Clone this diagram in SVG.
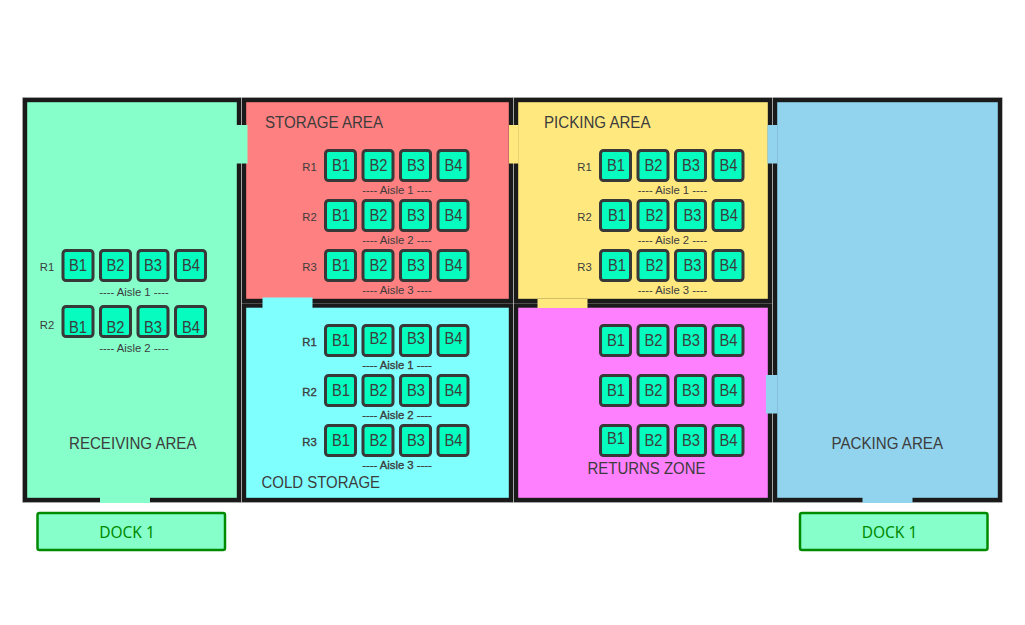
<svg xmlns="http://www.w3.org/2000/svg" width="1025" height="625" viewBox="0 0 1025 625">
<style>
.room{stroke:#1a1a1a;stroke-width:4.4}
.edge{fill:none;stroke:#c8c8c8;stroke-width:1}
.bin{fill:#06fdbf;stroke:#383838;stroke-width:3}
text{font-family:"Liberation Sans",Arial,sans-serif;fill:#3c3c3c}
.b{font-size:16px}
.l{font-size:16px}
.s{font-size:11.3px;text-anchor:middle}
.h{stroke:#3c3c3c;stroke-width:.35}
.dock{fill:#86ffcb;stroke:#008a00;stroke-width:2.5}
.dt{font-family:"Noto Sans",sans-serif;font-size:15.5px;fill:#008a00;text-anchor:middle}
</style>
<rect width="1025" height="625" fill="#fff"/>
<g id="receiving">
<rect class="edge" x="22.5" y="97.5" width="219" height="405"/>
<rect class="room" x="25" y="100" width="214" height="400" fill="#86ffcb"/>
<text class="l" x="69" y="449" textLength="127.5" lengthAdjust="spacingAndGlyphs">RECEIVING AREA</text>
<text class="s" x="47" y="271">R1</text><text class="s" x="47" y="329">R2</text>
<rect class="bin" x="63" y="250.5" width="30" height="30" rx="3"/><rect class="bin" x="100.5" y="250.5" width="30" height="30" rx="3"/><rect class="bin" x="138" y="250.5" width="30" height="30" rx="3"/><rect class="bin" x="175.5" y="250.5" width="30" height="30" rx="3"/>
<text class="b" x="69" y="271" textLength="18" lengthAdjust="spacingAndGlyphs">B1</text><text class="b" x="106.5" y="271" textLength="18" lengthAdjust="spacingAndGlyphs">B2</text><text class="b" x="144" y="271" textLength="18" lengthAdjust="spacingAndGlyphs">B3</text><text class="b" x="182" y="271" textLength="18" lengthAdjust="spacingAndGlyphs">B4</text>
<text class="s" x="134" y="296">---- Aisle 1 ----</text>
<rect class="bin" x="63" y="306.5" width="30" height="30" rx="3"/><rect class="bin" x="100.5" y="306.5" width="30" height="30" rx="3"/><rect class="bin" x="138" y="306.5" width="30" height="30" rx="3"/><rect class="bin" x="175.5" y="306.5" width="30" height="30" rx="3"/>
<text class="b" x="69" y="333" textLength="18" lengthAdjust="spacingAndGlyphs">B1</text><text class="b" x="106.5" y="333" textLength="18" lengthAdjust="spacingAndGlyphs">B2</text><text class="b" x="144" y="333" textLength="18" lengthAdjust="spacingAndGlyphs">B3</text><text class="b" x="182" y="333" textLength="18" lengthAdjust="spacingAndGlyphs">B4</text>
<text class="s" x="134" y="352">---- Aisle 2 ----</text>
</g>
<g id="storage">
<rect class="edge" x="241.5" y="97.5" width="272" height="206"/>
<rect class="room" x="244" y="100" width="267" height="201" fill="#ff8080"/>
<text class="l" x="265" y="128" textLength="118" lengthAdjust="spacingAndGlyphs">STORAGE AREA</text>
<text class="s" x="309.5" y="171">R1</text><text class="s" x="309.5" y="221">R2</text><text class="s" x="309.5" y="271">R3</text>
<rect class="bin" x="325.5" y="150.5" width="30" height="30" rx="3"/><rect class="bin" x="363" y="150.5" width="30" height="30" rx="3"/><rect class="bin" x="400.5" y="150.5" width="30" height="30" rx="3"/><rect class="bin" x="438" y="150.5" width="30" height="30" rx="3"/>
<rect class="bin" x="325.5" y="200.5" width="30" height="30" rx="3"/><rect class="bin" x="363" y="200.5" width="30" height="30" rx="3"/><rect class="bin" x="400.5" y="200.5" width="30" height="30" rx="3"/><rect class="bin" x="438" y="200.5" width="30" height="30" rx="3"/>
<rect class="bin" x="325.5" y="250.5" width="30" height="30" rx="3"/><rect class="bin" x="363" y="250.5" width="30" height="30" rx="3"/><rect class="bin" x="400.5" y="250.5" width="30" height="30" rx="3"/><rect class="bin" x="438" y="250.5" width="30" height="30" rx="3"/>
<text class="b" x="332" y="171" textLength="18" lengthAdjust="spacingAndGlyphs">B1</text><text class="b" x="369.5" y="171" textLength="18" lengthAdjust="spacingAndGlyphs">B2</text><text class="b" x="407" y="171" textLength="18" lengthAdjust="spacingAndGlyphs">B3</text><text class="b" x="444.5" y="171" textLength="18" lengthAdjust="spacingAndGlyphs">B4</text>
<text class="b" x="332" y="221" textLength="18" lengthAdjust="spacingAndGlyphs">B1</text><text class="b" x="369.5" y="221" textLength="18" lengthAdjust="spacingAndGlyphs">B2</text><text class="b" x="407" y="221" textLength="18" lengthAdjust="spacingAndGlyphs">B3</text><text class="b" x="444.5" y="221" textLength="18" lengthAdjust="spacingAndGlyphs">B4</text>
<text class="b" x="332" y="271" textLength="18" lengthAdjust="spacingAndGlyphs">B1</text><text class="b" x="369.5" y="271" textLength="18" lengthAdjust="spacingAndGlyphs">B2</text><text class="b" x="407" y="271" textLength="18" lengthAdjust="spacingAndGlyphs">B3</text><text class="b" x="444.5" y="271" textLength="18" lengthAdjust="spacingAndGlyphs">B4</text>
<text class="s" x="397" y="194">---- Aisle 1 ----</text><text class="s" x="397" y="244">---- Aisle 2 ----</text><text class="s" x="397" y="294">---- Aisle 3 ----</text>
</g>
<g id="cold-storage">
<rect class="edge" x="241.5" y="303.5" width="272" height="199"/>
<rect class="room" x="244" y="305.5" width="267" height="194.5" fill="#80ffff"/>
<text class="l" x="261.5" y="488" textLength="118.5" lengthAdjust="spacingAndGlyphs">COLD STORAGE</text>
<text class="s h" x="309.5" y="346">R1</text><text class="s h" x="309.5" y="396">R2</text><text class="s h" x="309.5" y="446">R3</text>
<rect class="bin" x="325.5" y="325.5" width="30" height="30" rx="3"/><rect class="bin" x="363" y="325.5" width="30" height="30" rx="3"/><rect class="bin" x="400.5" y="325.5" width="30" height="30" rx="3"/><rect class="bin" x="438" y="325.5" width="30" height="30" rx="3"/>
<rect class="bin" x="325.5" y="375.5" width="30" height="30" rx="3"/><rect class="bin" x="363" y="375.5" width="30" height="30" rx="3"/><rect class="bin" x="400.5" y="375.5" width="30" height="30" rx="3"/><rect class="bin" x="438" y="375.5" width="30" height="30" rx="3"/>
<rect class="bin" x="325.5" y="425.5" width="30" height="30" rx="3"/><rect class="bin" x="363" y="425.5" width="30" height="30" rx="3"/><rect class="bin" x="400.5" y="425.5" width="30" height="30" rx="3"/><rect class="bin" x="438" y="425.5" width="30" height="30" rx="3"/>
<text class="b" x="332" y="346" textLength="18" lengthAdjust="spacingAndGlyphs">B1</text><text class="b" x="369.5" y="344" textLength="18" lengthAdjust="spacingAndGlyphs">B2</text><text class="b" x="407" y="344" textLength="18" lengthAdjust="spacingAndGlyphs">B3</text><text class="b" x="444.5" y="344" textLength="18" lengthAdjust="spacingAndGlyphs">B4</text>
<text class="b" x="332" y="396" textLength="18" lengthAdjust="spacingAndGlyphs">B1</text><text class="b" x="369.5" y="396" textLength="18" lengthAdjust="spacingAndGlyphs">B2</text><text class="b" x="407" y="396" textLength="18" lengthAdjust="spacingAndGlyphs">B3</text><text class="b" x="444.5" y="396" textLength="18" lengthAdjust="spacingAndGlyphs">B4</text>
<text class="b" x="332" y="446" textLength="18" lengthAdjust="spacingAndGlyphs">B1</text><text class="b" x="369.5" y="446" textLength="18" lengthAdjust="spacingAndGlyphs">B2</text><text class="b" x="407" y="446" textLength="18" lengthAdjust="spacingAndGlyphs">B3</text><text class="b" x="444.5" y="446" textLength="18" lengthAdjust="spacingAndGlyphs">B4</text>
<text class="s h" x="397" y="369">---- Aisle 1 ----</text><text class="s h" x="397" y="419">---- Aisle 2 ----</text><text class="s h" x="397" y="469">---- Aisle 3 ----</text>
</g>
<g id="picking">
<rect class="edge" x="513.5" y="97.5" width="259" height="206"/>
<rect class="room" x="516" y="100" width="254" height="201" fill="#ffe97f"/>
<text class="l" x="544" y="128" textLength="106.5" lengthAdjust="spacingAndGlyphs">PICKING AREA</text>
<text class="s" x="584.5" y="171">R1</text><text class="s" x="584.5" y="221">R2</text><text class="s" x="584.5" y="271">R3</text>
<rect class="bin" x="600.5" y="150.5" width="30" height="30" rx="3"/><rect class="bin" x="638" y="150.5" width="30" height="30" rx="3"/><rect class="bin" x="675.5" y="150.5" width="30" height="30" rx="3"/><rect class="bin" x="713" y="150.5" width="30" height="30" rx="3"/>
<rect class="bin" x="600.5" y="200.5" width="30" height="30" rx="3"/><rect class="bin" x="638" y="200.5" width="30" height="30" rx="3"/><rect class="bin" x="675.5" y="200.5" width="30" height="30" rx="3"/><rect class="bin" x="713" y="200.5" width="30" height="30" rx="3"/>
<rect class="bin" x="600.5" y="250.5" width="30" height="30" rx="3"/><rect class="bin" x="638" y="250.5" width="30" height="30" rx="3"/><rect class="bin" x="675.5" y="250.5" width="30" height="30" rx="3"/><rect class="bin" x="713" y="250.5" width="30" height="30" rx="3"/>
<text class="b" x="607" y="171" textLength="18" lengthAdjust="spacingAndGlyphs">B1</text><text class="b" x="644.5" y="171" textLength="18" lengthAdjust="spacingAndGlyphs">B2</text><text class="b" x="682" y="171" textLength="18" lengthAdjust="spacingAndGlyphs">B3</text><text class="b" x="719.5" y="171" textLength="18" lengthAdjust="spacingAndGlyphs">B4</text>
<text class="b" x="608" y="221" textLength="18" lengthAdjust="spacingAndGlyphs">B1</text><text class="b" x="645.5" y="221" textLength="18" lengthAdjust="spacingAndGlyphs">B2</text><text class="b" x="683.5" y="221" textLength="18" lengthAdjust="spacingAndGlyphs">B3</text><text class="b" x="720" y="221" textLength="18" lengthAdjust="spacingAndGlyphs">B4</text>
<text class="b" x="608" y="271" textLength="18" lengthAdjust="spacingAndGlyphs">B1</text><text class="b" x="645.5" y="271" textLength="18" lengthAdjust="spacingAndGlyphs">B2</text><text class="b" x="683.5" y="271" textLength="18" lengthAdjust="spacingAndGlyphs">B3</text><text class="b" x="719.5" y="271" textLength="18" lengthAdjust="spacingAndGlyphs">B4</text>
<text class="s" x="672.5" y="194">---- Aisle 1 ----</text><text class="s" x="672.5" y="244">---- Aisle 2 ----</text><text class="s" x="672.5" y="294">---- Aisle 3 ----</text>
</g>
<g id="returns">
<rect class="edge" x="513.5" y="303.5" width="259" height="199"/>
<rect class="room" x="516" y="305.5" width="254" height="194.5" fill="#ff80ff"/>
<text class="l" x="587.5" y="474" textLength="118" lengthAdjust="spacingAndGlyphs">RETURNS ZONE</text>
<rect class="bin" x="600.5" y="325.5" width="30" height="30" rx="3"/><rect class="bin" x="638" y="325.5" width="30" height="30" rx="3"/><rect class="bin" x="675.5" y="325.5" width="30" height="30" rx="3"/><rect class="bin" x="713" y="325.5" width="30" height="30" rx="3"/>
<rect class="bin" x="600.5" y="375.5" width="30" height="30" rx="3"/><rect class="bin" x="638" y="375.5" width="30" height="30" rx="3"/><rect class="bin" x="675.5" y="375.5" width="30" height="30" rx="3"/><rect class="bin" x="713" y="375.5" width="30" height="30" rx="3"/>
<rect class="bin" x="600.5" y="425.5" width="30" height="30" rx="3"/><rect class="bin" x="638" y="425.5" width="30" height="30" rx="3"/><rect class="bin" x="675.5" y="425.5" width="30" height="30" rx="3"/><rect class="bin" x="713" y="425.5" width="30" height="30" rx="3"/>
<text class="b" x="607" y="346" textLength="18" lengthAdjust="spacingAndGlyphs">B1</text><text class="b" x="644.5" y="346" textLength="18" lengthAdjust="spacingAndGlyphs">B2</text><text class="b" x="682" y="346" textLength="18" lengthAdjust="spacingAndGlyphs">B3</text><text class="b" x="719.5" y="346" textLength="18" lengthAdjust="spacingAndGlyphs">B4</text>
<text class="b" x="607" y="396" textLength="18" lengthAdjust="spacingAndGlyphs">B1</text><text class="b" x="644.5" y="396" textLength="18" lengthAdjust="spacingAndGlyphs">B2</text><text class="b" x="682" y="396" textLength="18" lengthAdjust="spacingAndGlyphs">B3</text><text class="b" x="719.5" y="396" textLength="18" lengthAdjust="spacingAndGlyphs">B4</text>
<text class="b" x="607" y="444" textLength="18" lengthAdjust="spacingAndGlyphs">B1</text><text class="b" x="644.5" y="446" textLength="18" lengthAdjust="spacingAndGlyphs">B2</text><text class="b" x="682" y="446" textLength="18" lengthAdjust="spacingAndGlyphs">B3</text><text class="b" x="719.5" y="446" textLength="18" lengthAdjust="spacingAndGlyphs">B4</text>
</g>
<g id="packing">
<rect class="edge" x="772.5" y="97.5" width="229.5" height="405"/>
<rect class="room" x="775" y="100" width="225" height="400" fill="#92d3ee"/>
<text class="l" x="831.5" y="449" textLength="111.5" lengthAdjust="spacingAndGlyphs">PACKING AREA</text>
</g>
<g id="doors">
<rect x="236" y="125" width="11.5" height="38.5" fill="#86ffcb"/>
<rect x="262.5" y="297.5" width="50" height="10.5" fill="#80ffff"/>
<rect x="509" y="125" width="9.5" height="38.5" fill="#ffe97f"/>
<rect x="537.5" y="299" width="50" height="9" fill="#ffe97f"/>
<rect x="767.5" y="125" width="10" height="38.5" fill="#92d3ee"/>
<rect x="766" y="375" width="11.5" height="38.5" fill="#92d3ee"/>
<rect x="100" y="497" width="50" height="6" fill="#86ffcb"/>
<rect x="862.5" y="497" width="50" height="6" fill="#92d3ee"/>
</g>
<g id="dock-1-left">
<rect class="dock" x="37.5" y="513" width="187.5" height="37" rx="2"/>
<text class="dt" x="127" y="538">DOCK 1</text>
</g>
<g id="dock-1-right">
<rect class="dock" x="800" y="513" width="187.5" height="37" rx="2"/>
<text class="dt" x="889.5" y="538">DOCK 1</text>
</g>
</svg>
